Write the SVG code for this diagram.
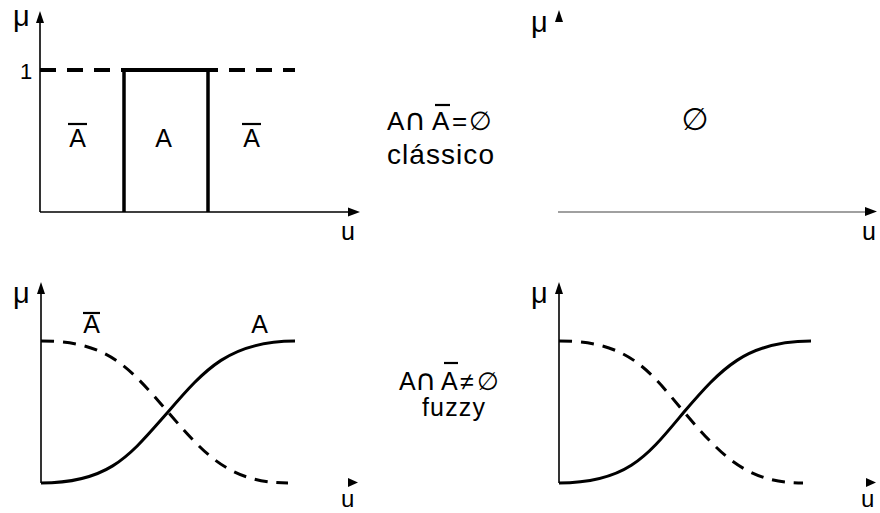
<svg xmlns="http://www.w3.org/2000/svg" width="880" height="513" viewBox="0 0 880 513">
<style>
.t{font-family:"Liberation Sans","DejaVu Sans",Arial,sans-serif;fill:#000}
.dj{font-family:"DejaVu Sans","Liberation Sans",sans-serif}
.ax{stroke:#000;stroke-width:1.6;fill:none}
.ah{fill:#000}
.sol{stroke:#000;stroke-width:3;fill:none}
.dsh{stroke:#000;stroke-width:3;fill:none;stroke-dasharray:13 9}
.bar{stroke:#000;stroke-width:2.2}
</style>
<rect width="880" height="513" fill="#fff"/>

<g id="crisp-plot">
  <path class="ax" d="M40,212 V20 M40,212 H350"/>
  <polygon class="ah" points="40,11 36,23 44,23"/>
  <polygon class="ah" points="360,212 348,207.5 348,216.5"/>
  <text class="t" x="13" y="26" font-size="29">μ</text>
  <text class="t" x="20" y="79" font-size="22">1</text>
  <path d="M40,70 H295" stroke="#000" stroke-width="4" stroke-dasharray="16 11" fill="none"/>
  <path d="M124,70 H208" stroke="#000" stroke-width="4" fill="none"/>
  <path d="M124,70 V212 M208,70 V212" stroke="#000" stroke-width="3.5" fill="none"/>
  <text class="t" x="77.5" y="147" font-size="25" text-anchor="middle">A</text>
  <line class="bar" x1="68" y1="124" x2="87" y2="124"/>
  <text class="t" x="163.5" y="147" font-size="25" text-anchor="middle">A</text>
  <text class="t" x="251.5" y="147" font-size="25" text-anchor="middle">A</text>
  <line class="bar" x1="242" y1="124" x2="261" y2="124"/>
  <text class="t" x="341" y="240" font-size="25">u</text>
</g>

<g id="crisp-label">
  <text class="t" y="130" font-size="26"><tspan x="387">A</tspan><tspan class="dj" x="404" font-size="30">∩</tspan><tspan x="432">A</tspan><tspan x="452">=</tspan><tspan x="469">∅</tspan></text>
  <line class="bar" x1="435" y1="105" x2="450" y2="105"/>
  <text class="t" x="387" y="164" font-size="28" textLength="107" lengthAdjust="spacing">clássico</text>
</g>

<g id="empty-plot">
  <text class="t" x="531" y="32" font-size="29">μ</text>
  <polygon class="ah" points="559,10 555,22 563,22"/>
  <path d="M558,212 H866" stroke="#808080" stroke-width="1.6" fill="none"/>
  <polygon class="ah" points="877,211.5 865,207 865,216"/>
  <text class="t" x="862" y="240" font-size="25">u</text>
  <text class="t" x="695" y="130" font-size="31" text-anchor="middle">∅</text>
</g>

<g id="fuzzy-plot">
  <path class="ax" d="M41,483 V292"/>
  <polygon class="ah" points="41,282 37,294 45,294"/>
  <polygon class="ah" points="358,482.5 348,478 348,487"/>
  <text class="t" x="13" y="303" font-size="29">μ</text>
  <text class="t" x="91.5" y="333" font-size="25" text-anchor="middle">A</text>
  <line class="bar" x1="83" y1="313" x2="100" y2="313"/>
  <text class="t" x="259.5" y="333" font-size="25" text-anchor="middle">A</text>
  <path class="sol" d="M41,483 C110,483 130,455 168,412 C205,369 230,341 295,341"/>
  <path class="dsh" d="M41,341 C110,341 130,369 168,412 C205,455 230,483 288,483"/>
  <text class="t" x="341" y="507" font-size="24">u</text>
</g>

<g id="fuzzy-label">
  <text class="t" y="390" font-size="25"><tspan x="399">A</tspan><tspan class="dj" x="415" font-size="29">∩</tspan><tspan x="441">A</tspan><tspan x="460">≠</tspan><tspan x="477">∅</tspan></text>
  <line class="bar" x1="444" y1="363" x2="458" y2="363"/>
  <text class="t" x="422" y="416" font-size="25" textLength="63" lengthAdjust="spacing">fuzzy</text>
</g>

<g id="fuzzy-plot-2">
  <path class="ax" d="M559,483 V292"/>
  <polygon class="ah" points="559,282 555,294 563,294"/>
  <polygon class="ah" points="876,482.5 866,478 866,487"/>
  <text class="t" x="531" y="303" font-size="29">μ</text>
  <path class="sol" d="M559,483 C628,483 648,455 684,412 C721,369 746,341 811,341"/>
  <path class="dsh" d="M559,341 C628,341 648,369 684,412 C721,455 746,483 803,483"/>
  <text class="t" x="861" y="507" font-size="24">u</text>
</g>
</svg>
